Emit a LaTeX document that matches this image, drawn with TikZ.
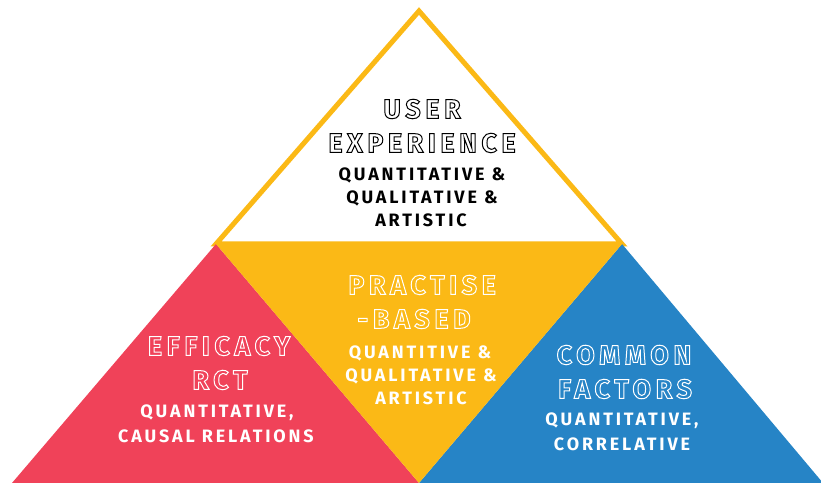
\documentclass[tikz,border=0pt]{standalone}
\usepackage{fontspec}
\setmainfont{Fira Sans}
\newfontfamily\titlefont[LetterSpace=17]{Fira Sans}
\newfontfamily\bodyfont[LetterSpace=16]{Fira Sans}
\definecolor{pyred}{RGB}{240,66,89}
\definecolor{pyyel}{RGB}{251,185,22}
\definecolor{pyblue}{RGB}{38,132,198}
\newcommand\outlinetext[1]{\special{pdf:literal direct 1 Tr 1.0 w}#1\special{pdf:literal direct 0 Tr}}
\tikzset{
  ttl/.style={inner sep=0pt, anchor=center, font=\titlefont\bfseries\fontsize{27}{27}\selectfont},
  bdy/.style={inner sep=0pt, anchor=center, font=\bodyfont\bfseries\fontsize{18}{18}\selectfont},
}
\begin{document}
\begin{tikzpicture}[x=1bp,y=-1bp]
\useasboundingbox (0,0) rectangle (821,483);
% top outlined triangle
\draw[pyyel, fill=white, line width=5bp, line join=miter] (216,244) -- (419,11) -- (622,244) -- cycle;
% bottom triangles
\fill[pyred] (12,483) -- (216,244) -- (419,483) -- cycle;
\fill[pyblue] (419,483) -- (622,244) -- (823,483) -- cycle;
\fill[pyyel] (216,244) -- (622,244) -- (419,483) -- cycle;
% top texts
\node[ttl, text=black] (u1) at (422,109) {\outlinetext{USER}};
\node[ttl, text=black] (u2) at (422,143) {\outlinetext{EXPERIENCE}};
\node[bdy, text=black] (u3) at (422,175) {QUANTITATIVE \&};
\node[bdy, text=black] (u4) at (422,198) {QUALITATIVE \&};
\node[bdy, text=black] (u5) at (421,220) {ARTISTIC};
% middle texts
\node[ttl, text=white] (p1) at (422,285) {\outlinetext{PRACTISE}};
\node[ttl, text=white] (p2) at (414,319) {\outlinetext{-BASED}};
\node[bdy, text=white] (p3) at (420,353) {QUANTITIVE \&};
\node[bdy, text=white] (p4) at (421,376) {QUALITATIVE \&};
\node[bdy, text=white] (p5) at (421,398) {ARTISTIC};
% left texts
\node[ttl, text=white] (e1) at (219,346) {\outlinetext{EFFICACY}};
\node[ttl, text=white] (e2) at (220,380) {\outlinetext{RCT}};
\node[bdy, text=white] (e3) at (217,413) {QUANTITATIVE,};
\node[bdy, text=white] (e4) at (216,436) {CAUSAL RELATIONS};
% right texts
\node[ttl, text=white] (c1) at (624,355) {\outlinetext{COMMON}};
\node[ttl, text=white] (c2) at (625,389) {\outlinetext{FACTORS}};
\node[bdy, text=white] (c3) at (622,421) {QUANTITATIVE,};
\node[bdy, text=white] (c4) at (622,444) {CORRELATIVE};
\end{tikzpicture}
\end{document}
